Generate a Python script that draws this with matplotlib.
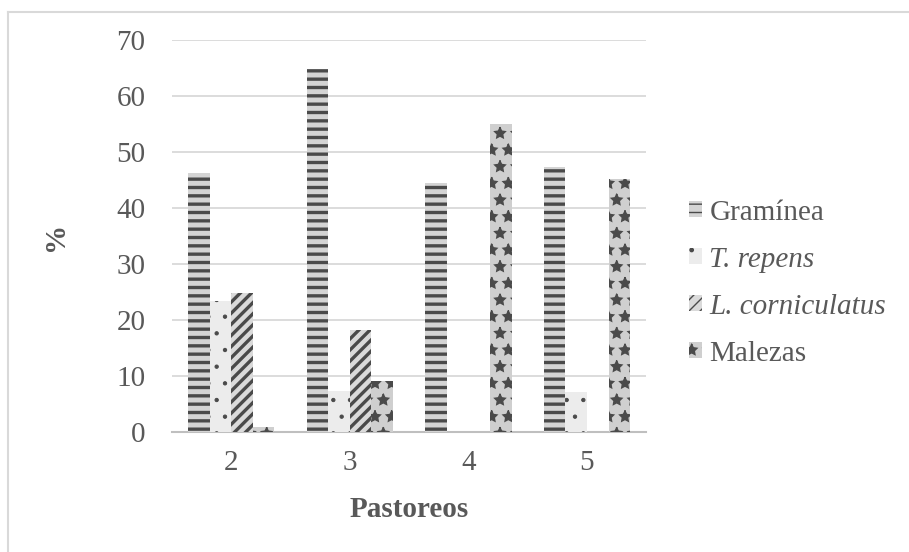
import matplotlib.pyplot as plt
import matplotlib.lines as mlines
import numpy as np

plt.rcParams['font.family'] = ['Liberation Serif', 'DejaVu Serif']

# ── 데이터 ──
pastoreos = ["2", "3", "4", "5"]
graminea = [46.3, 64.8, 44.5, 47.4]
t_repens = [23.4, 7.4, 0, 7.2]
l_corniculatus = [24.8, 18.2, 0, 0]
malezas = [1.0, 9.1, 55.1, 45.2]

series = [graminea, t_repens, l_corniculatus, malezas]
labels = ["Gramínea", "T. repens", "L. corniculatus", "Malezas"]
faces = ["#d4d4d4", "#ececec", "#dadada", "#cfcfcf"]
hatches = ["--", ".", "///", "*"]
hatch_lw = [2.4, 0.7, 2.4, 1.0]
TXT = "#595959"
FS = 21

fig = plt.figure(figsize=(9.09, 5.52), dpi=100)
ax = fig.add_axes([0.189, 0.217, 0.522, 0.7105])

x = np.arange(len(pastoreos))
w = 0.182
for i, (vals, lab) in enumerate(zip(series, labels)):
    bars = ax.bar(x + (i - 1.5) * w, vals, w, label=lab, color=faces[i],
                  edgecolor="#4a4a4a", linewidth=0, hatch=hatches[i], zorder=3)
    for b in bars:
        if hasattr(b, "set_hatch_linewidth"):
            b.set_hatch_linewidth(hatch_lw[i])

ax.set_ylim(0, 70)
ax.set_xlim(-0.5, 3.5)
ax.set_yticks(range(0, 71, 10))
ax.set_xticks(x)
ax.set_xticklabels(pastoreos)
ax.yaxis.grid(True, color="#d9d9d9", linewidth=1.3, zorder=0)
ax.set_axisbelow(True)
for s in ["top", "right", "left"]:
    ax.spines[s].set_visible(False)
ax.spines["bottom"].set_color("#bfbfbf")
ax.spines["bottom"].set_linewidth(1.5)
ax.tick_params(axis="both", length=0, labelsize=FS, labelcolor=TXT)
ax.tick_params(axis="y", pad=19)
ax.tick_params(axis="x", pad=13)

ax.set_xlabel("Pastoreos", fontsize=FS, fontweight="bold", color=TXT, labelpad=14)
ax.set_ylabel("%", fontsize=FS, fontweight="bold", color=TXT, labelpad=34)

leg = ax.legend(loc="center left", bbox_to_anchor=(0.758, 0.487),
                bbox_transform=fig.transFigure, frameon=False, fontsize=FS,
                handlelength=0.45, handleheight=0.45, handletextpad=0.25,
                labelspacing=0.72, borderpad=0, borderaxespad=0)
for t in leg.get_texts():
    t.set_color(TXT)
leg.get_texts()[1].set_style("italic")
leg.get_texts()[2].set_style("italic")

# 바깥 테두리
fig.add_artist(mlines.Line2D([8 / 909, 8 / 909], [0, 1 - 12 / 552],
                             transform=fig.transFigure, color="#d9d9d9", lw=1.5))
fig.add_artist(mlines.Line2D([8 / 909, 1], [1 - 12 / 552, 1 - 12 / 552],
                             transform=fig.transFigure, color="#d9d9d9", lw=1.5))

fig.savefig("out.png", dpi=100)
